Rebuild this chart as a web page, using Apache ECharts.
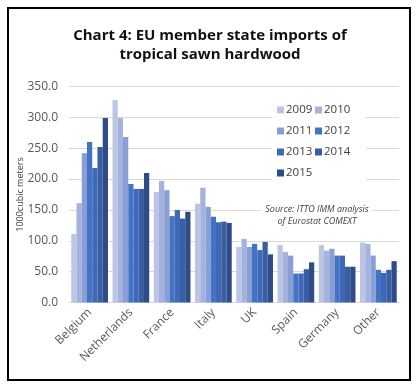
<!DOCTYPE html>
<html><head><meta charset="utf-8">
<script src="https://cdn.jsdelivr.net/npm/echarts@6/dist/echarts.min.js"></script>
<style>html,body{margin:0;padding:0;background:#fff}#c{width:420px;height:388px}</style>
</head><body><div id="c"></div>
<script>
const categories = ['Belgium','Netherlands','France','Italy','UK','Spain','Germany','Other'];
const years = ['2009','2010','2011','2012','2013','2014','2015'];
const v2009 = [111,328,179,160,90,93,93,97];
const v2010 = [161,299,197,186,103,82,84,95];
const v2011 = [242,268,182,155,90,76,87,76];
const v2012 = [260,192,140,139,95,47,76,53];
const v2013 = [218,184,150,130,85,47,76,48];
const v2014 = [252,184,136,131,98,54,58,53];
const v2015 = [299,210,147,129,78,65,58,67];
const yTicks = [0,50,100,150,200,250,300,350];
const titleText = 'Chart 4: EU member state imports of\ntropical sawn hardwood';
const yName = '1000cubic meters';
const sourceText = 'Source: ITTO IMM analysis\nof Eurostat COMEXT';

const values = [v2009,v2010,v2011,v2012,v2013,v2014,v2015];
const colors = ['#bcc6e4','#a3b2de','#8a9ed6','#4472c4','#3f69b8','#395ea4','#2e4c88'];
const FONT = 'Open Sans';

const legendPos = [[277,104],[315,104],[277,125],[315,125],[277,146],[315,146],[277,167]];

const chart = echarts.init(document.getElementById('c'), null, {renderer:'canvas'});
chart.setOption({
  animation:false,
  color: colors,
  title:{text:titleText,left:'center',top:21,
    textStyle:{fontFamily:FONT,fontSize:15,fontWeight:'bold',color:'#111',lineHeight:19}},
  grid:{left:69,right:21,top:86.5,bottom:85.5},
  legend: years.map((y,i)=>({data:[y],left:legendPos[i][0],top:legendPos[i][1],
    icon:'rect',itemWidth:7,itemHeight:7,padding:0,
    textStyle:{fontFamily:FONT,fontSize:11.5,color:'#404040',padding:[0,0,0,-3]}})),
  xAxis:{type:'category',data:categories,
    axisLine:{show:true,lineStyle:{color:'#d9d9d9'}},axisTick:{show:false},
    axisLabel:{rotate:45,interval:0,margin:8,fontFamily:FONT,fontSize:12,color:'#595959'}},
  yAxis:{type:'value',min:0,max:350,interval:50,
    name:yName,nameLocation:'middle',nameGap:44,nameMoveOverlap:false,
    nameTextStyle:{fontFamily:FONT,fontSize:9,color:'#404040'},
    axisLine:{show:false},axisTick:{show:false},
    splitLine:{lineStyle:{color:'#d9d9d9'}},
    axisLabel:{margin:11,fontFamily:FONT,fontSize:12,color:'#595959',
      formatter:v=>yTicks.includes(v)?v.toFixed(1):''}},
  graphic:[
    {type:'rect',shape:{x:272,y:98,width:94,height:88},style:{fill:'#fff'},z:1,silent:true},
    {type:'text',x:317,y:202,z:1,style:{text:sourceText,fontFamily:FONT,fontStyle:'italic',fontSize:9,
      lineHeight:12,fill:'#404040',align:'center',verticalAlign:'top',
      backgroundColor:'#fff',padding:[1,4,1,4]}},
    {type:'rect',shape:{x:8,y:8,width:402,height:372},style:{fill:'none',stroke:'#000',lineWidth:2},z:10,silent:true}
  ],
  series: years.map((y,i)=>({name:y,type:'bar',data:values[i],barGap:'0%',barCategoryGap:'11%',z:2}))
});
</script></body></html>
